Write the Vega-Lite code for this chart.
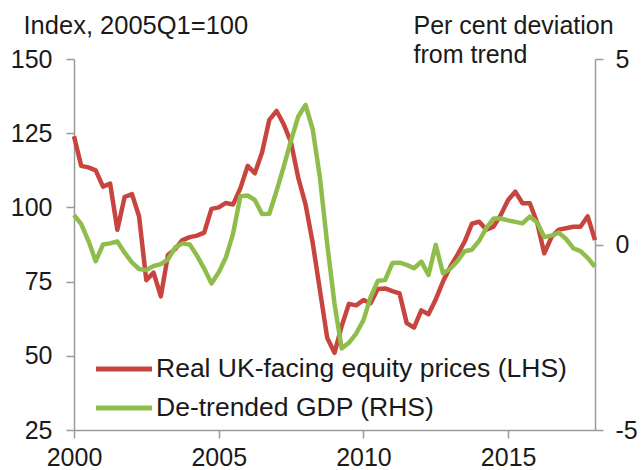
{
  "$schema": "https://vega.github.io/schema/vega-lite/v6.json",
  "width": 521,
  "height": 371,
  "autosize": {"type": "none"},
  "padding": {"left": 74, "top": 59, "right": 46, "bottom": 40},
  "background": "white",
  "config": {
    "view": {"stroke": null},
    "font": "Liberation Sans",
    "axis": {
      "grid": false,
      "domainColor": "#9a9a9a",
      "domainWidth": 1.5,
      "tickColor": "#9a9a9a",
      "tickWidth": 1.5,
      "tickSize": 8,
      "labelFontSize": 25,
      "labelColor": "#1a1a1a",
      "labelFont": "Liberation Sans",
      "titleFont": "Liberation Sans",
      "titleFontSize": 25,
      "titleFontWeight": "normal",
      "titleColor": "#1a1a1a"
    },
    "legend": {
      "orient": "none",
      "legendX": 33.5,
      "legendY": 293.5,
      "padding": 0,
      "symbolType": "M-2,0H2",
      "symbolSize": 784,
      "symbolStrokeWidth": 5,
      "labelOffset": 15.5,
      "labelFontSize": 26.5,
      "labelFont": "Liberation Sans",
      "labelColor": "#1a1a1a",
      "labelLimit": 0,
      "rowPadding": 9
    }
  },
  "data": {
    "values": [
      {"q": "2000-01-01", "equity": 124, "gdp": 0.8},
      {"q": "2000-04-01", "equity": 114, "gdp": 0.55},
      {"q": "2000-07-01", "equity": 113.5, "gdp": 0.1},
      {"q": "2000-10-01", "equity": 112.5, "gdp": -0.45},
      {"q": "2001-01-01", "equity": 107, "gdp": 0.0},
      {"q": "2001-04-01", "equity": 108, "gdp": 0.03},
      {"q": "2001-07-01", "equity": 92.5, "gdp": 0.08},
      {"q": "2001-10-01", "equity": 103.5, "gdp": -0.22},
      {"q": "2002-01-01", "equity": 104.5, "gdp": -0.48},
      {"q": "2002-04-01", "equity": 97, "gdp": -0.66},
      {"q": "2002-07-01", "equity": 75.5, "gdp": -0.69},
      {"q": "2002-10-01", "equity": 78, "gdp": -0.58},
      {"q": "2003-01-01", "equity": 70, "gdp": -0.53},
      {"q": "2003-04-01", "equity": 84, "gdp": -0.4},
      {"q": "2003-07-01", "equity": 86, "gdp": -0.08},
      {"q": "2003-10-01", "equity": 89, "gdp": 0.03},
      {"q": "2004-01-01", "equity": 90, "gdp": 0.0},
      {"q": "2004-04-01", "equity": 90.5, "gdp": -0.3},
      {"q": "2004-07-01", "equity": 91.5, "gdp": -0.65},
      {"q": "2004-10-01", "equity": 99.5, "gdp": -1.05},
      {"q": "2005-01-01", "equity": 100, "gdp": -0.75},
      {"q": "2005-04-01", "equity": 101.5, "gdp": -0.35},
      {"q": "2005-07-01", "equity": 101, "gdp": 0.3},
      {"q": "2005-10-01", "equity": 106.5, "gdp": 1.3},
      {"q": "2006-01-01", "equity": 114, "gdp": 1.32},
      {"q": "2006-04-01", "equity": 111.5, "gdp": 1.2},
      {"q": "2006-07-01", "equity": 118.5, "gdp": 0.82},
      {"q": "2006-10-01", "equity": 129.5, "gdp": 0.83},
      {"q": "2007-01-01", "equity": 132.5, "gdp": 1.45},
      {"q": "2007-04-01", "equity": 128, "gdp": 2.1},
      {"q": "2007-07-01", "equity": 122, "gdp": 2.8},
      {"q": "2007-10-01", "equity": 110, "gdp": 3.45},
      {"q": "2008-01-01", "equity": 101, "gdp": 3.76},
      {"q": "2008-04-01", "equity": 88, "gdp": 3.1},
      {"q": "2008-07-01", "equity": 72, "gdp": 1.8},
      {"q": "2008-10-01", "equity": 56, "gdp": 0.0},
      {"q": "2009-01-01", "equity": 51, "gdp": -1.6},
      {"q": "2009-04-01", "equity": 60, "gdp": -2.8},
      {"q": "2009-07-01", "equity": 67.5, "gdp": -2.65},
      {"q": "2009-10-01", "equity": 67, "gdp": -2.4},
      {"q": "2010-01-01", "equity": 68.8, "gdp": -2.04},
      {"q": "2010-04-01", "equity": 67.7, "gdp": -1.42},
      {"q": "2010-07-01", "equity": 72.5, "gdp": -0.98},
      {"q": "2010-10-01", "equity": 72.7, "gdp": -0.96},
      {"q": "2011-01-01", "equity": 71.8, "gdp": -0.5},
      {"q": "2011-04-01", "equity": 71, "gdp": -0.49},
      {"q": "2011-07-01", "equity": 61, "gdp": -0.55},
      {"q": "2011-10-01", "equity": 59.5, "gdp": -0.64},
      {"q": "2012-01-01", "equity": 65.3, "gdp": -0.46},
      {"q": "2012-04-01", "equity": 64, "gdp": -0.82},
      {"q": "2012-07-01", "equity": 69, "gdp": -0.01},
      {"q": "2012-10-01", "equity": 75, "gdp": -0.78},
      {"q": "2013-01-01", "equity": 80, "gdp": -0.65},
      {"q": "2013-04-01", "equity": 84, "gdp": -0.45},
      {"q": "2013-07-01", "equity": 88.5, "gdp": -0.18},
      {"q": "2013-10-01", "equity": 94.5, "gdp": -0.14},
      {"q": "2014-01-01", "equity": 95.2, "gdp": 0.1},
      {"q": "2014-04-01", "equity": 92.5, "gdp": 0.45},
      {"q": "2014-07-01", "equity": 93.5, "gdp": 0.7},
      {"q": "2014-10-01", "equity": 97.5, "gdp": 0.7},
      {"q": "2015-01-01", "equity": 102.5, "gdp": 0.65},
      {"q": "2015-04-01", "equity": 105.3, "gdp": 0.61},
      {"q": "2015-07-01", "equity": 101.4, "gdp": 0.57},
      {"q": "2015-10-01", "equity": 101.4, "gdp": 0.75},
      {"q": "2016-01-01", "equity": 95, "gdp": 0.6},
      {"q": "2016-04-01", "equity": 84.5, "gdp": 0.2},
      {"q": "2016-07-01", "equity": 90, "gdp": 0.24},
      {"q": "2016-10-01", "equity": 92.5, "gdp": 0.32},
      {"q": "2017-01-01", "equity": 93, "gdp": 0.15},
      {"q": "2017-04-01", "equity": 93.5, "gdp": -0.1},
      {"q": "2017-07-01", "equity": 93.5, "gdp": -0.18},
      {"q": "2017-10-01", "equity": 97, "gdp": -0.36},
      {"q": "2018-01-01", "equity": 89, "gdp": -0.6}
    ]
  },
  "layer": [
    {
      "mark": {"type": "line", "strokeWidth": 4.5, "strokeJoin": "round"},
      "encoding": {
        "x": {
          "field": "q",
          "type": "temporal",
          "scale": {"type": "utc", "domain": [{"year": 2000, "month": 1, "date": 1, "utc": true}, {"year": 2018, "month": 1, "date": 1, "utc": true}]},
          "axis": {
            "title": null,
            "format": "%Y",
            "values": [{"year": 2000, "month": 1, "date": 1, "utc": true}, {"year": 2005, "month": 1, "date": 1, "utc": true}, {"year": 2010, "month": 1, "date": 1, "utc": true}, {"year": 2015, "month": 1, "date": 1, "utc": true}],
            "labelPadding": 7,
            "labelFlush": false,
            "labelOverlap": false
          }
        },
        "y": {
          "field": "equity",
          "type": "quantitative",
          "scale": {"domain": [25, 150], "nice": false, "zero": false},
          "axis": {
            "orient": "left",
            "values": [25, 50, 75, 100, 125, 150],
            "labelPadding": 14,
            "title": "Index, 2005Q1=100",
            "titleAngle": 0,
            "titleAlign": "left",
            "titleBaseline": "alphabetic",
            "titleFontSize": 25.5,
            "titleX": -51,
            "titleY": -26
          }
        },
        "color": {
          "datum": "Real UK-facing equity prices (LHS)",
          "type": "nominal",
          "scale": {
            "domain": ["Real UK-facing equity prices (LHS)", "De-trended GDP (RHS)"],
            "range": ["#c8453f", "#8fbd4b"]
          },
          "legend": {"title": null}
        }
      }
    },
    {
      "mark": {"type": "line", "strokeWidth": 4.5, "strokeJoin": "round"},
      "encoding": {
        "x": {"field": "q", "type": "temporal"},
        "y": {
          "field": "gdp",
          "type": "quantitative",
          "scale": {"domain": [-5, 5], "nice": false, "zero": false},
          "axis": {
            "orient": "right",
            "values": [-5, 0, 5],
            "labelExpr": "'' + datum.value",
            "labelPadding": 12,
            "title": ["Per cent deviation", "from trend"],
            "titleAngle": 0,
            "titleAlign": "left",
            "titleBaseline": "alphabetic",
            "titleLineHeight": 29,
            "titleX": -182,
            "titleY": -26
          }
        },
        "color": {"datum": "De-trended GDP (RHS)", "type": "nominal"}
      }
    }
  ],
  "resolve": {"scale": {"y": "independent"}}
}
